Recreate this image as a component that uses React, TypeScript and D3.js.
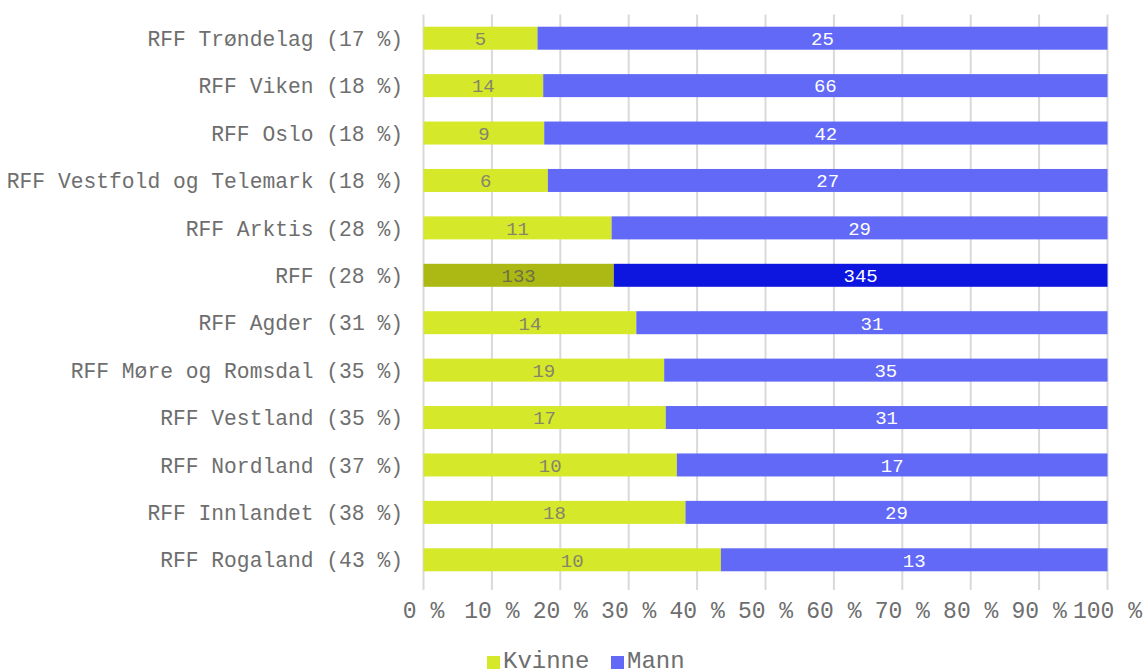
import React from "react";
import * as d3 from "d3";

const categories = [
  "RFF Trøndelag (17 %)",
  "RFF Viken (18 %)",
  "RFF Oslo (18 %)",
  "RFF Vestfold og Telemark (18 %)",
  "RFF Arktis (28 %)",
  "RFF (28 %)",
  "RFF Agder (31 %)",
  "RFF Møre og Romsdal (35 %)",
  "RFF Vestland (35 %)",
  "RFF Nordland (37 %)",
  "RFF Innlandet (38 %)",
  "RFF Rogaland (43 %)",
];
const kvinne = [5, 14, 9, 6, 11, 133, 14, 19, 17, 10, 18, 10];
const mann = [25, 66, 42, 27, 29, 345, 31, 35, 31, 17, 29, 13];
const highlighted = "RFF (28 %)";
const ticks = [0, 10, 20, 30, 40, 50, 60, 70, 80, 90, 100];
const seriesNames = ["Kvinne", "Mann"];

const W = 1146;
const H = 671;
const FONT = "'Liberation Mono', 'Courier New', monospace";

const COL_K = "#d6e82a";
const COL_M = "#6169f6";
const COL_K_HL = "#acb914";
const COL_M_HL = "#0c16df";
const TEXT = "#6e6e6e";

export default function App() {
  const x = d3.scaleLinear().domain([0, 100]).range([423.5, 1107.5]);
  const y = d3
    .scaleBand<string>()
    .domain(categories)
    .range([14.5, 583.5])
    .paddingInner(0.515)
    .paddingOuter(0.2575);
  const bh = y.bandwidth();

  return (
    <svg
      width={W}
      height={H}
      style={{ position: "absolute", left: 0, top: 0, background: "#fff" }}
      fontFamily={FONT}
    >
      {ticks.map((t) => (
        <line
          key={"g" + t}
          x1={x(t)}
          x2={x(t)}
          y1={14.5}
          y2={590}
          stroke="#d9d9d9"
          strokeWidth={2}
        />
      ))}
      {categories.map((c, i) => {
        const total = kvinne[i] + mann[i];
        const pk = (kvinne[i] / total) * 100;
        const hl = c === highlighted;
        const y0 = y(c)!;
        const cy = y0 + bh / 2;
        return (
          <g key={c}>
            <rect
              x={x(0)}
              y={y0}
              width={x(pk) - x(0)}
              height={bh}
              fill={hl ? COL_K_HL : COL_K}
            />
            <rect
              x={x(pk)}
              y={y0}
              width={x(100) - x(pk)}
              height={bh}
              fill={hl ? COL_M_HL : COL_M}
            />
            <text
              x={(x(0) + x(pk)) / 2}
              y={cy}
              dy="0.36em"
              textAnchor="middle"
              fontSize={19}
              fill={hl ? "#6e6e4a" : "#85856a"}
            >
              {kvinne[i]}
            </text>
            <text
              x={(x(pk) + x(100)) / 2}
              y={cy}
              dy="0.36em"
              textAnchor="middle"
              fontSize={19}
              fill="#ffffff"
            >
              {mann[i]}
            </text>
            <text
              x={403}
              y={cy}
              dy="0.36em"
              textAnchor="end"
              fontSize={21.3}
              fill={TEXT}
            >
              {c}
            </text>
          </g>
        );
      })}
      {ticks.map((t) => (
        <text
          key={"t" + t}
          x={x(t)}
          y={618}
          textAnchor="middle"
          fontSize={23}
          fill={TEXT}
        >
          {t + " %"}
        </text>
      ))}
      <g>
        <rect x={487} y={656} width={13} height={13} fill={COL_K} />
        <text x={503} y={668} fontSize={24} fill={TEXT}>
          {seriesNames[0]}
        </text>
        <rect x={611} y={656} width={13} height={13} fill={COL_M} />
        <text x={627} y={668} fontSize={24} fill={TEXT}>
          {seriesNames[1]}
        </text>
      </g>
    </svg>
  );
}
